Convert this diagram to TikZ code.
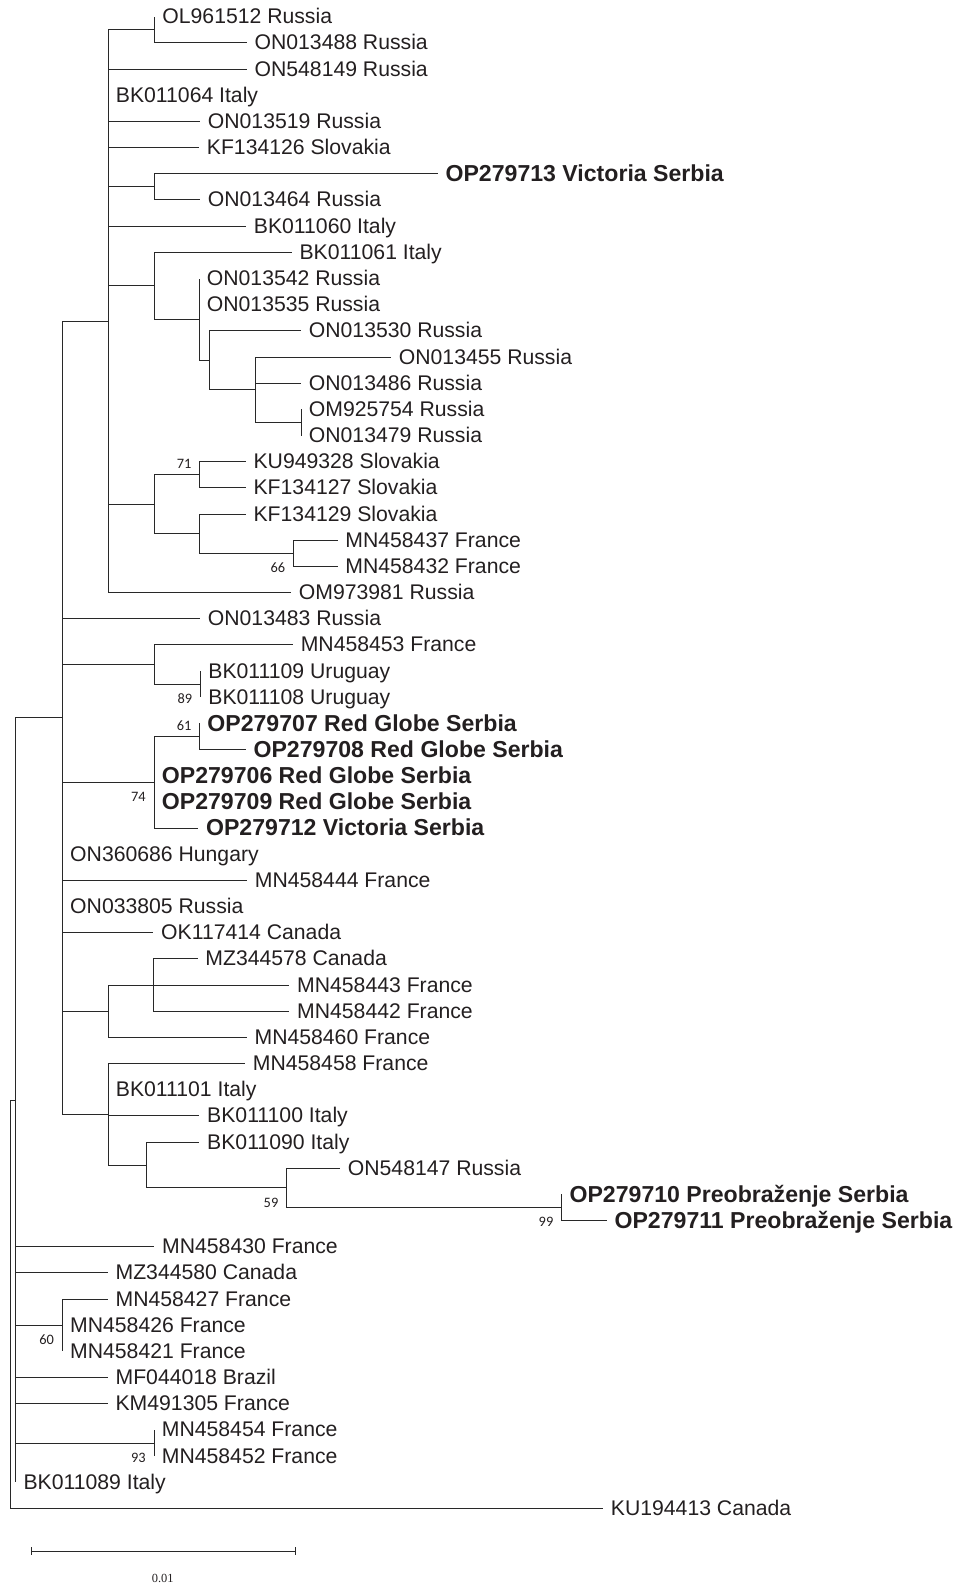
\documentclass[tikz,border=0pt]{standalone}
\usepackage{fontspec}
\setmainfont{Liberation Sans}
\newfontfamily\bsfont{Carlito}
\newfontfamily\myserif{Liberation Serif}
\usetikzlibrary{calc}
\definecolor{linec}{RGB}{40,40,40}
\definecolor{textc}{RGB}{35,31,32}
\tikzset{
  br/.style={draw=linec, line width=0.5pt},
  lab/.style={anchor=base west, inner sep=0pt, text=textc, font=\fontsize{10.6}{12}\selectfont},
  blab/.style={anchor=base west, inner sep=0pt, text=textc, font=\fontsize{11.55}{13}\selectfont\bfseries},
  bs/.style={anchor=east, inner sep=0pt, text=textc, font=\bsfont\fontsize{7.2}{8}\selectfont},
}
\newcommand\tip[4]{%
  \coordinate (#1) at (#2,{16.8+(#3-1)*26.17});
  \node[lab] (#1-l) at ([xshift=3.75pt,yshift=-3.5pt]#1) {#4};}
\newcommand\btip[4]{%
  \coordinate (#1) at (#2,{16.8+(#3-1)*26.17});
  \node[blab] (#1-l) at ([xshift=3.75pt,yshift=-3.8pt]#1) {#4};}
\begin{document}
\begin{tikzpicture}[x=0.5pt,y=-0.5pt]
\useasboundingbox (0,0) rectangle (962,1585);
% internal nodes
\coordinate (R) at (10,1304.24);
\coordinate (P) at (15.7,1100.0);
\coordinate (B) at (62.3,717.67);
\coordinate (A) at (108,321.03);
\coordinate (A0) at (108,49.51);
\coordinate (OLg) at (154.5,29.885);
\coordinate (Vic) at (154,186.905);
\coordinate (C) at (154,285.86);
\coordinate (D) at (199,319.39);
\coordinate (E) at (209.5,360.28);
\coordinate (F) at (255.5,389.72);
\coordinate (G) at (301,422.435);
\coordinate (H) at (154,504.22);
\coordinate (I) at (199.5,474.775);
\coordinate (J) at (199.5,533.66);
\coordinate (K) at (293.5,553.285);
\coordinate (L) at (154.5,664.51);
\coordinate (M) at (200.5,684.135);
\coordinate (N) at (154,782.27);
\coordinate (O) at (199.5,736.475);
\coordinate (U) at (108,1011.26);
\coordinate (W) at (153,985.09);
\coordinate (V) at (108,1114.31);
\coordinate (X) at (146,1165.01);
\coordinate (Y) at (286.7,1187.91);
\coordinate (Z) at (561.7,1207.535);
\coordinate (S) at (62.3,1325.3);
\coordinate (T) at (154,1443.065);
% tips
\tip{t1}{154.5}{1}{OL961512 Russia}
\tip{t2}{246.7}{2}{ON013488 Russia}
\tip{t3}{246.7}{3}{ON548149 Russia}
\tip{t4}{108}{4}{BK011064 Italy}
\tip{t5}{200}{5}{ON013519 Russia}
\tip{t6}{199}{6}{KF134126 Slovakia}
\btip{t7}{437.7}{7}{OP279713 Victoria Serbia}
\tip{t8}{200}{8}{ON013464 Russia}
\tip{t9}{246}{9}{BK011060 Italy}
\tip{t10}{291.7}{10}{BK011061 Italy}
\tip{t11}{199}{11}{ON013542 Russia}
\tip{t12}{199}{12}{ON013535 Russia}
\tip{t13}{301}{13}{ON013530 Russia}
\tip{t14}{391}{14}{ON013455 Russia}
\tip{t15}{301}{15}{ON013486 Russia}
\tip{t16}{301}{16}{OM925754 Russia}
\tip{t17}{301}{17}{ON013479 Russia}
\tip{t18}{245.7}{18}{KU949328 Slovakia}
\tip{t19}{245.7}{19}{KF134127 Slovakia}
\tip{t20}{245.7}{20}{KF134129 Slovakia}
\tip{t21}{337.5}{21}{MN458437 France}
\tip{t22}{337.5}{22}{MN458432 France}
\tip{t23}{291}{23}{OM973981 Russia}
\tip{t24}{200}{24}{ON013483 Russia}
\tip{t25}{292.9}{25}{MN458453 France}
\tip{t26}{200.5}{26}{BK011109 Uruguay}
\tip{t27}{200.5}{27}{BK011108 Uruguay}
\btip{t28}{199.5}{28}{OP279707 Red Globe Serbia}
\btip{t29}{245.7}{29}{OP279708 Red Globe Serbia}
\btip{t30}{154}{30}{OP279706 Red Globe Serbia}
\btip{t31}{154}{31}{OP279709 Red Globe Serbia}
\btip{t32}{198.2}{32}{OP279712 Victoria Serbia}
\tip{t33}{62.3}{33}{ON360686 Hungary}
\tip{t34}{247}{34}{MN458444 France}
\tip{t35}{62.3}{35}{ON033805 Russia}
\tip{t36}{153.3}{36}{OK117414 Canada}
\tip{t37}{197.5}{37}{MZ344578 Canada}
\tip{t38}{289.3}{38}{MN458443 France}
\tip{t39}{289.3}{39}{MN458442 France}
\tip{t40}{246.7}{40}{MN458460 France}
\tip{t41}{245}{41}{MN458458 France}
\tip{t42}{108}{42}{BK011101 Italy}
\tip{t43}{199.3}{43}{BK011100 Italy}
\tip{t44}{199.3}{44}{BK011090 Italy}
\tip{t45}{340}{45}{ON548147 Russia}
\btip{t46}{561.7}{46}{OP279710 Preobraženje Serbia}
\btip{t47}{606.7}{47}{OP279711 Preobraženje Serbia}
\tip{t48}{154.3}{48}{MN458430 France}
\tip{t49}{107.7}{49}{MZ344580 Canada}
\tip{t50}{107.7}{50}{MN458427 France}
\tip{t51}{62.3}{51}{MN458426 France}
\tip{t52}{62.3}{52}{MN458421 France}
\tip{t53}{107.7}{53}{MF044018 Brazil}
\tip{t54}{107.7}{54}{KM491305 France}
\tip{t55}{154}{55}{MN458454 France}
\tip{t56}{154}{56}{MN458452 France}
\tip{t57}{15.7}{57}{BK011089 Italy}
\tip{t58}{603}{58}{KU194413 Canada}
% branches
\foreach \p/\c in {R/P,R/t58,
  P/B,P/t48,P/t49,P/S,P/t53,P/t54,P/T,P/t57,
  B/A,B/t24,B/L,B/N,B/t33,B/t34,B/t35,B/t36,B/U,B/V,
  A/A0,A/t4,A/t5,A/t6,A/Vic,A/t9,A/C,A/H,A/t23,
  A0/OLg,A0/t3,OLg/t1,OLg/t2,Vic/t7,Vic/t8,
  C/t10,C/D,D/t11,D/t12,D/E,E/t13,E/F,F/t14,F/t15,F/G,G/t16,G/t17,
  H/I,H/J,I/t18,I/t19,J/t20,J/K,K/t21,K/t22,
  L/t25,L/M,M/t26,M/t27,
  N/O,N/t30,N/t31,N/t32,O/t28,O/t29,
  U/W,U/t40,W/t37,W/t38,W/t39,
  V/t41,V/t42,V/t43,V/X,X/t44,X/Y,Y/t45,Y/Z,Z/t46,Z/t47,
  S/t50,S/t51,S/t52,T/t55,T/t56}
  \draw[br] (\p) |- (\c);
% bootstrap values
\node[bs] (b71) at ($(I)+(-7.7,-11)$) {71};
\node[bs] (b66) at ($(K)+(-8,14.5)$) {66};
\node[bs] (b89) at ($(M)+(-8,14.5)$) {89};
\node[bs] (b61) at ($(O)+(-7.7,-11)$) {61};
\node[bs] (b74) at ($(N)+(-8,14.5)$) {74};
\node[bs] (b59) at ($(Y)+(-8,14.5)$) {59};
\node[bs] (b99) at ($(Z)+(-8,14.5)$) {99};
\node[bs] (b60) at ($(S)+(-8,14.5)$) {60};
\node[bs] (b93) at ($(T)+(-8,14.5)$) {93};
% scale bar
\coordinate (sb1) at (31.7,1551);
\coordinate (sb2) at (295.7,1551);
\draw[br] (sb1) -- (sb2);
\draw[br] ([yshift=2pt]sb1) -- ([yshift=-2pt]sb1);
\draw[br] ([yshift=2pt]sb2) -- ([yshift=-2pt]sb2);
\node[inner sep=0pt, text=textc, font=\myserif\fontsize{6.2}{7}\selectfont] (sbl) at ($($(sb1)!0.5!(sb2)$)+(-1,27)$) {0.01};
\end{tikzpicture}
\end{document}
